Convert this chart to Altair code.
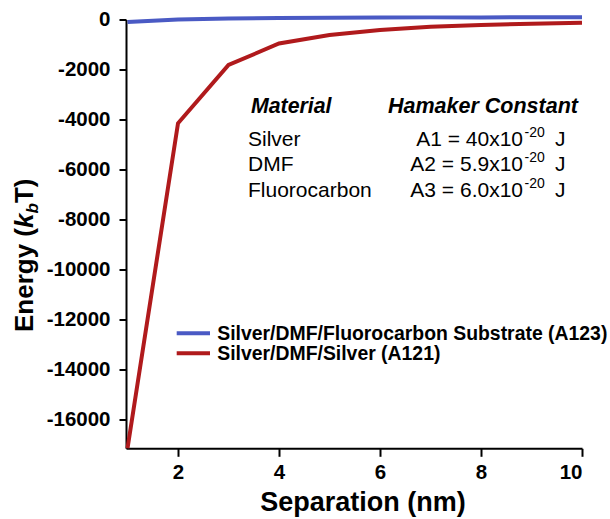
import altair as alt
import pandas as pd

# Interaction energy vs. separation for two three-body systems
separation_nm = [1, 2, 3, 4, 5, 6, 7, 8, 9, 10]
energy_a123 = [-100, 0, 40, 60, 70, 80, 85, 85, 90, 90]
energy_a121 = [-17150, -4150, -1820, -960, -620, -420, -290, -220, -170, -130]

series_names = ["Silver/DMF/Fluorocarbon Substrate (A123)", "Silver/DMF/Silver (A121)"]
series_colors = ["#4a5ac4", "#b01a1c"]

x_ticks = [2, 4, 6, 8, 10]
y_ticks = [0, -2000, -4000, -6000, -8000, -10000, -12000, -14000, -16000]

table_header = ["Material", "Hamaker Constant"]
materials = ["Silver", "DMF", "Fluorocarbon"]
hamaker_values = ["A1 = 40x10", "A2 = 5.9x10", "A3 = 6.0x10"]
hamaker_exponent = "-20"
hamaker_unit = "J"

FONT = "Liberation Sans, Arial, Helvetica, sans-serif"

df = pd.DataFrame({
    "series": [series_names[0]] * len(separation_nm) + [series_names[1]] * len(separation_nm),
    "separation": separation_nm + separation_nm,
    "energy": energy_a123 + energy_a121,
})

lines = alt.Chart(df).mark_line(strokeWidth=4, clip=False).encode(
    x=alt.X(
        "separation:Q",
        scale=alt.Scale(domain=[0.97, 10], nice=False, zero=False),
        axis=alt.Axis(values=x_ticks, title=None, tickSize=8, labelPadding=6,
                      labelExpr="'' + datum.value"),
    ),
    y=alt.Y(
        "energy:Q",
        scale=alt.Scale(domain=[-17150, 0], nice=False, zero=False),
        axis=alt.Axis(values=y_ticks, title=None, tickSize=7, labelPadding=9,
                      labelExpr="'' + datum.value"),
    ),
    color=alt.Color("series:N", scale=alt.Scale(domain=series_names, range=series_colors), legend=None),
    order=alt.Order("separation:Q"),
)


def label(text, x, y, size, weight="normal", style="normal", align="left", angle=0):
    mark_args = dict(align=align, baseline="alphabetic", font=FONT, fontSize=size,
                     fontWeight=weight, fontStyle=style, color="black")
    if angle:
        mark_args["angle"] = angle
    return alt.Chart(pd.DataFrame({"t": [text]})).mark_text(**mark_args).encode(
        text="t:N", x=alt.value(x), y=alt.value(y)
    )


layers = [lines]

# Hamaker constant table
layers.append(label(table_header[0], 125, 93.5, 21.3, "bold", "italic"))
layers.append(label(table_header[1], 262, 93.5, 21.5, "bold", "italic"))
row_y = [126, 151.5, 177.5]
for name, val, yy in zip(materials, hamaker_values, row_y):
    layers.append(label(name, 122, yy, 21))
    layers.append(label(val, 397, yy, 21, align="right"))
    layers.append(label(hamaker_exponent, 398.5, yy - 9, 14))
    layers.append(label(hamaker_unit, 429, yy, 21))

# Legend
legend_y = [313.8, 333.8]
for name, col, yy in zip(series_names, series_colors, legend_y):
    layers.append(
        alt.Chart(pd.DataFrame({"s": [name]})).mark_rule(strokeWidth=4, color=col).encode(
            x=alt.value(50.7), x2=alt.value(84), y=alt.value(yy)
        )
    )
    layers.append(label(name, 91.3, yy + 6.4, 19.4, "bold"))

# Axis titles
layers.append(label("Separation (nm)", 237, 491.5, 27, "bold", align="center"))
ty_x = -92.7
layers.append(label("Energy (", ty_x, 312.5, 26, "bold", angle=270))
layers.append(label("k", ty_x, 208.5, 26, "bold", "italic", angle=270))
layers.append(label("b", ty_x + 5, 194, 17, "bold", "italic", angle=270))
layers.append(label("T)", ty_x, 183.6, 26, "bold", angle=270))

chart = alt.layer(*layers).properties(
    width=456,
    height=428.8,
    autosize="none",
    padding={"left": 126, "top": 19.5, "right": 28, "bottom": 70.7},
    background="white",
).configure_view(stroke=None).configure_axis(
    grid=False,
    domainColor="black",
    domainWidth=2,
    tickColor="black",
    tickWidth=2,
    labelFont=FONT,
    labelFontSize=20.5,
    labelFontWeight="bold",
    labelColor="black",
)

chart.save("out.html", embed_options={"renderer": "svg", "actions": False})
